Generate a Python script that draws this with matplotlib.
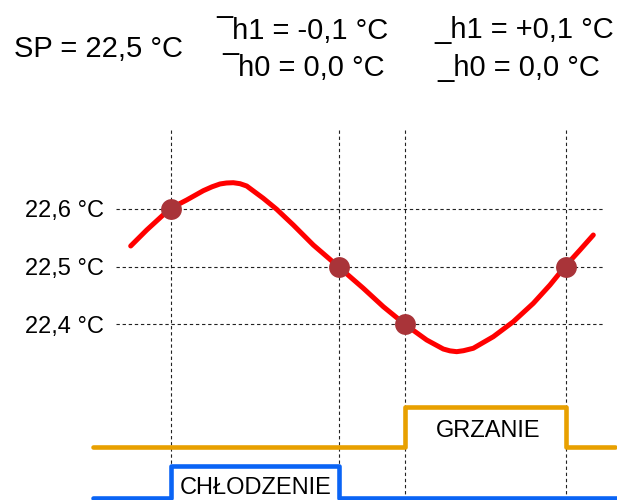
import matplotlib.pyplot as plt

plt.rcParams['font.family'] = ['Liberation Sans', 'DejaVu Sans']

# time axis is schematic (arbitrary units)
events = [78, 245.5, 312.3, 473]          # switching moments (dashed verticals)
event_temp = [22.6, 22.5, 22.4, 22.5]     # temperature at those moments

# room temperature
t = [37.7, 53.7, 77, 93.7, 110.3, 119, 127, 133.5, 140.3, 147, 153.7, 170.3,
     183.7, 200.3, 220.3, 245.3, 270.3, 290.3, 312, 333.7, 350.3, 357,
     363.7, 370.5, 380.3, 400.3, 420.3, 440.3, 457, 472, 487, 500.3]
temp = [22.5355, 22.5631, 22.6, 22.6150, 22.6311, 22.6378, 22.6427, 22.6444,
        22.6449, 22.6432, 22.6392, 22.6179, 22.5989, 22.5718, 22.5372, 22.5,
        22.4624, 22.4306, 22.4, 22.3730, 22.3574, 22.3542, 22.3528, 22.3545,
        22.3587, 22.3787, 22.4046, 22.4364, 22.4681, 22.5, 22.5286, 22.5545]

yticks = [22.4, 22.5, 22.6]
ytick_labels = ['22,4 °C', '22,5 °C', '22,6 °C']

# heating / cooling outputs (steps-post)
heat_t = [0.3, 312.3, 473, 522]
heat_on = [0, 1, 0, 0]
cool_t = [0, 78, 245.5, 540]
cool_on = [0, 1, 0, 0]

fig = plt.figure(figsize=(6.17, 5.0), dpi=100)

# temperature panel
ax = fig.add_axes([116 / 617, 0, 489 / 617, 370 / 500])
ax.patch.set_visible(False)
ax.set_xlim(23, 512)
ax.set_ylim(22.0964, 22.7360)
for s in ax.spines.values():
    s.set_visible(False)
ax.set_xticks(events)
ax.set_xticklabels([])
ax.set_yticks(yticks)
ax.set_yticklabels(ytick_labels, fontsize=17)
ax.tick_params(length=0, pad=8.5)
ax.grid(True, color='#222222', linewidth=0.8, linestyle=(0, (3, 2.5)))
ax.set_axisbelow(True)
ax.plot(t, temp, color='#ff0000', linewidth=3.6, solid_capstyle='round',
        solid_joinstyle='round', zorder=3)
ax.plot(events, event_temp, 'o', color='#a93439', markersize=15, zorder=4,
        markeredgewidth=0)

# heating output
ax_h = fig.add_axes([0, 1 - 447.3 / 500, 1, 40.6 / 500])
ax_h.axis('off')
ax_h.set_xlim(-93, 524)
ax_h.set_ylim(0, 1)
ax_h.plot(heat_t, heat_on, drawstyle='steps-post', color='#e8a000',
          linewidth=3.3, solid_capstyle='round', clip_on=False)
ax_h.text(395, 0.4, 'GRZANIE', fontsize=17, ha='center', va='center')

# cooling output
ax_c = fig.add_axes([0, 1 - 498.3 / 500, 1, 32.3 / 500])
ax_c.axis('off')
ax_c.set_xlim(-93, 524)
ax_c.set_ylim(0, 1)
ax_c.plot(cool_t, cool_on, drawstyle='steps-post', color='#0a64f5',
          linewidth=3.3, solid_capstyle='round', clip_on=False)
ax_c.text(163, 0.33, 'CHŁODZENIE', fontsize=17, ha='center', va='center')

# header
fig.text(14 / 617, 1 - 56.7 / 500, 'SP = 22,5 °C', fontsize=21, va='baseline')
fig.text(216 / 617, 1 - 38.8 / 500, '¯h1 = -0,1 °C', fontsize=21, va='baseline')
fig.text(222 / 617, 1 - 76.3 / 500, '¯h0 = 0,0 °C', fontsize=21, va='baseline')
fig.text(434 / 617, 1 - 38.3 / 500, '_h1 = +0,1 °C', fontsize=21, va='baseline')
fig.text(437 / 617, 1 - 76.5 / 500, '_h0 = 0,0 °C', fontsize=21, va='baseline')

fig.savefig('out.png', dpi=100)
